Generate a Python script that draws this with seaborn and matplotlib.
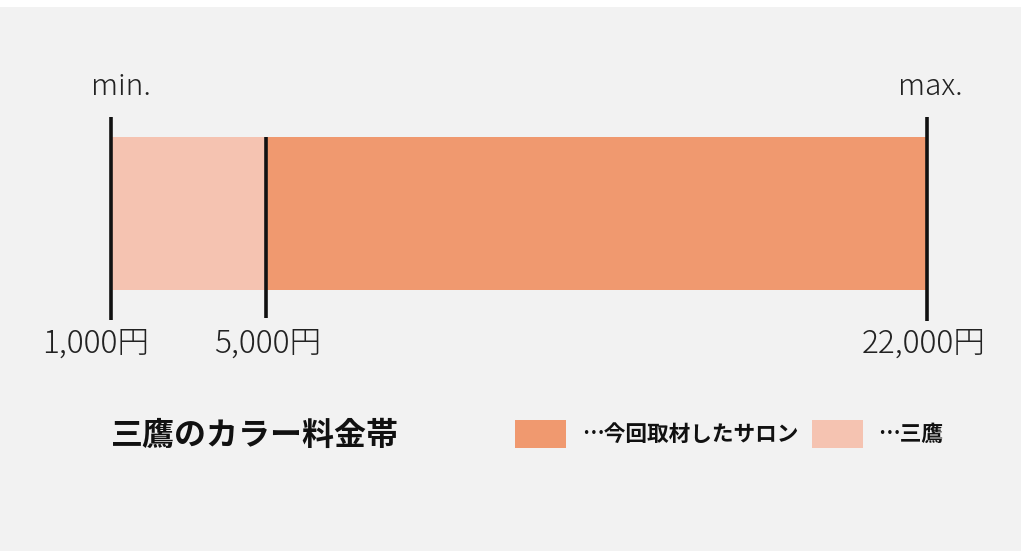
import matplotlib
matplotlib.use("Agg")
import matplotlib.pyplot as plt
import matplotlib.transforms as mtransforms
from matplotlib.patches import Rectangle
import seaborn as sns
import pandas as pd

# ---- data ----
segment_labels = ["…今回取材したサロン", "…三鷹"]
segment_upper = [22000, 5000]          # upper end of each band (yen)
range_min = 1000
marker_values = [1000, 5000, 22000]
marker_labels = ["1,000円", "5,000円", "22,000円"]
end_labels = ["min.", "max."]
title_text = "三鷹のカラー料金帯"
colors = ["#F0996F", "#F5C3B1"]

sns.set_theme(style="white")
plt.rcParams['font.family'] = ['Noto Sans CJK JP', 'DejaVu Sans']

W, H = 1024, 551
fig = plt.figure(figsize=(W / 100, H / 100), dpi=100, facecolor="white")

def fx(px):
    return px / W

def fy(py):
    return 1 - py / H

# gray background panel
fig.patches.append(Rectangle((0, 0), fx(1021), fy(7), transform=fig.transFigure,
                             facecolor="#F2F2F2", edgecolor="none", zorder=-10))

ax = fig.add_axes([fx(111), fy(290), fx(927) - fx(111), fy(137) - fy(290)])
ax.set_facecolor("none")
ax.set_zorder(2)

df = pd.DataFrame({"band": segment_labels, "upper": segment_upper, "row": ["r", "r"]})
for i in range(len(df)):
    sns.barplot(data=df.iloc[[i]], x="upper", y="row", orient="h", color=colors[i],
                saturation=1, width=0.8, ax=ax, edgecolor="none", linewidth=0)

ax.set_xlim(range_min, max(segment_upper))
ax.set_ylim(0.4, -0.4)
ax.set_xticks([])
ax.set_yticks([])
ax.set_xlabel("")
ax.set_ylabel("")
for s in ax.spines.values():
    s.set_visible(False)

blend = mtransforms.blended_transform_factory(ax.transData, fig.transFigure)
line_extents = [(117, 320), (137, 318), (117, 321)]
for v, (t, b) in zip(marker_values, line_extents):
    ax.plot([v, v], [fy(b), fy(t)], transform=blend, color="#111111", lw=2.6,
            clip_on=False, solid_capstyle="butt", zorder=5)

txtc = "#222222"
# value labels
label_dx = [-15, 1, -3]
for v, lab, dx in zip(marker_values, marker_labels, label_dx):
    ax.annotate(lab, xy=(v, fy(353)), xycoords=blend, xytext=(dx, 0), textcoords="offset pixels",
                ha="center", va="baseline", fontsize=22.8, color=txtc, annotation_clip=False,
                fontweight="light")

# min / max
ax.annotate(end_labels[0], xy=(marker_values[0], fy(95)), xycoords=blend, xytext=(10, 0),
            textcoords="offset pixels", ha="center", va="baseline", fontsize=21.5, color=txtc,
            annotation_clip=False, fontweight="light")
ax.annotate(end_labels[1], xy=(marker_values[-1], fy(95)), xycoords=blend, xytext=(3, 0),
            textcoords="offset pixels", ha="center", va="baseline", fontsize=21.5, color=txtc,
            annotation_clip=False, fontweight="light")

# title
fig.text(fx(111), fy(436), title_text, ha="left", va="center", fontsize=23,
         fontweight="bold", color="#111111")

# legend
sw = [(515, colors[0], 582, segment_labels[0]), (812, colors[1], 878, segment_labels[1])]
for x0, c, tx, lab in sw:
    fig.patches.append(Rectangle((fx(x0), fy(448)), fx(51), fy(420) - fy(448),
                                 transform=fig.transFigure, facecolor=c, edgecolor="none"))
    fig.text(fx(tx), fy(434), lab, ha="left", va="center", fontsize=15.6,
             fontweight="bold", color="#111111")

fig.savefig("out.png", dpi=100, facecolor=fig.get_facecolor())
